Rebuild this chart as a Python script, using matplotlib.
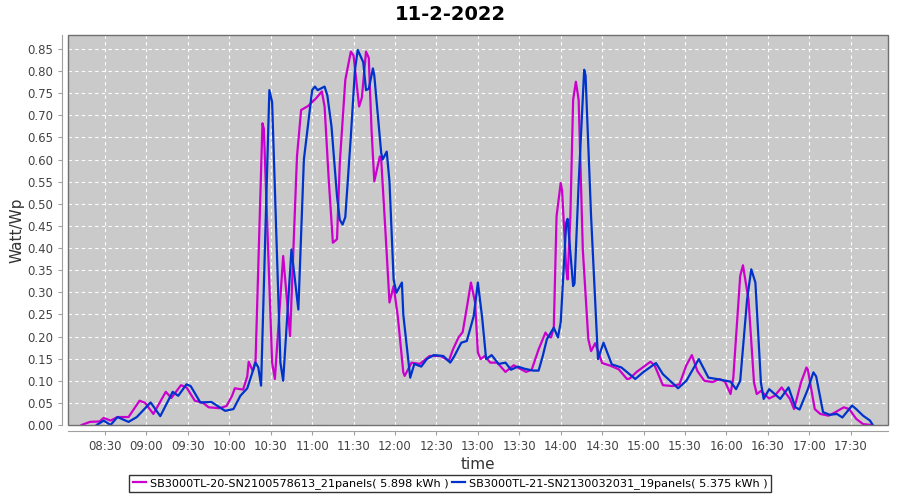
import matplotlib
matplotlib.use("Agg")
import matplotlib.pyplot as plt
from matplotlib.patches import Rectangle

# readings (time, Watt/Wp) for both inverters
times_a = ["08:13", "08:19", "08:26", "08:29", "08:34", "08:39", "08:47", "08:55", "08:59", "09:05",
           "09:14", "09:18", "09:25", "09:29", "09:35", "09:41", "09:45", "09:53", "09:58", "10:02",
           "10:04", "10:10", "10:13", "10:14", "10:17", "10:19", "10:24", "10:25", "10:31", "10:33",
           "10:39", "10:44", "10:49", "10:52", "10:57", "11:03", "11:07", "11:09", "11:12", "11:15",
           "11:18", "11:20", "11:24", "11:28", "11:30", "11:34", "11:36", "11:39", "11:41", "11:43",
           "11:45", "11:49", "11:50", "11:53", "11:56", "11:59", "12:02", "12:06", "12:07", "12:12",
           "12:18", "12:25", "12:33", "12:39", "12:42", "12:46", "12:49", "12:52", "12:55", "12:58",
           "13:00", "13:02", "13:05", "13:09", "13:14", "13:20", "13:26", "13:30", "13:35", "13:39",
           "13:44", "13:49", "13:51", "13:53", "13:55", "13:57", "14:00", "14:01", "14:04", "14:05",
           "14:07", "14:09", "14:11", "14:13", "14:16", "14:20", "14:22", "14:25", "14:30", "14:36",
           "14:42", "14:48", "14:50", "14:55", "15:05", "15:08", "15:14", "15:21", "15:26", "15:31",
           "15:35", "15:39", "15:44", "15:50", "15:55", "15:59", "16:03", "16:05", "16:10", "16:12",
           "16:16", "16:20", "16:22", "16:25", "16:31", "16:35", "16:40", "16:46", "16:49", "16:54",
           "16:58", "16:59", "17:04", "17:08", "17:14", "17:19", "17:25", "17:29", "17:34", "17:39",
           "17:45"]
watt_a = [0.0, 0.007, 0.008, 0.016, 0.01, 0.018, 0.018, 0.055, 0.05, 0.025,
          0.075, 0.061, 0.09, 0.085, 0.055, 0.05, 0.04, 0.038, 0.043, 0.066,
          0.083, 0.08, 0.11, 0.143, 0.122, 0.145, 0.682, 0.67, 0.141, 0.104,
          0.382, 0.201, 0.607, 0.712, 0.721, 0.739, 0.754, 0.72, 0.555, 0.412,
          0.42, 0.592, 0.78, 0.844, 0.835, 0.72, 0.74, 0.844, 0.83, 0.667,
          0.551, 0.607, 0.6, 0.442, 0.277, 0.314, 0.246, 0.119, 0.111, 0.141,
          0.138, 0.156, 0.156, 0.145, 0.171, 0.198, 0.21, 0.265, 0.322, 0.277,
          0.164, 0.149, 0.156, 0.141, 0.141, 0.12, 0.135, 0.128, 0.12, 0.125,
          0.171, 0.209, 0.2, 0.198, 0.22, 0.472, 0.547, 0.53, 0.352, 0.329,
          0.472, 0.735, 0.776, 0.735, 0.397, 0.194, 0.167, 0.185, 0.14, 0.134,
          0.126, 0.104, 0.105, 0.12, 0.143, 0.135, 0.09, 0.088, 0.092, 0.135,
          0.158, 0.122, 0.1, 0.097, 0.104, 0.098, 0.07, 0.107, 0.337, 0.361,
          0.284, 0.096, 0.07, 0.077, 0.06, 0.066, 0.085, 0.059, 0.036, 0.096,
          0.13, 0.125, 0.036, 0.025, 0.021, 0.029, 0.04, 0.036, 0.014, 0.002,
          0.0]

times_b = ["08:24", "08:29", "08:34", "08:39", "08:47", "08:53", "09:03", "09:10", "09:19", "09:23",
           "09:29", "09:32", "09:39", "09:47", "09:57", "10:03", "10:08", "10:13", "10:19", "10:21",
           "10:23", "10:29", "10:31", "10:37", "10:39", "10:45", "10:46", "10:50", "10:54", "11:00",
           "11:02", "11:04", "11:09", "11:11", "11:14", "11:18", "11:20", "11:22", "11:24", "11:28",
           "11:31", "11:33", "11:37", "11:39", "11:41", "11:44", "11:45", "11:50", "11:51", "11:54",
           "11:56", "11:59", "12:01", "12:05", "12:06", "12:11", "12:14", "12:19", "12:23", "12:28",
           "12:35", "12:40", "12:43", "12:48", "12:52", "12:57", "13:00", "13:03", "13:06", "13:10",
           "13:15", "13:20", "13:24", "13:29", "13:34", "13:40", "13:44", "13:47", "13:50", "13:55",
           "13:58", "14:00", "14:04", "14:05", "14:09", "14:10", "14:13", "14:17", "14:18", "14:22",
           "14:27", "14:31", "14:37", "14:44", "14:54", "15:00", "15:09", "15:14", "15:25", "15:31",
           "15:40", "15:47", "15:53", "16:03", "16:07", "16:10", "16:15", "16:18", "16:21", "16:25",
           "16:27", "16:31", "16:39", "16:45", "16:50", "16:53", "16:59", "17:03", "17:05", "17:10",
           "17:15", "17:20", "17:24", "17:31", "17:34", "17:39", "17:44", "17:46"]
watt_b = [0.0, 0.01, 0.0, 0.018, 0.007, 0.018, 0.051, 0.02, 0.075, 0.066,
          0.092, 0.088, 0.051, 0.052, 0.032, 0.036, 0.066, 0.083, 0.141, 0.13,
          0.089, 0.757, 0.73, 0.141, 0.1, 0.397, 0.37, 0.261, 0.6, 0.757,
          0.765, 0.757, 0.765, 0.745, 0.675, 0.517, 0.464, 0.453, 0.47, 0.652,
          0.803, 0.848, 0.82, 0.757, 0.76, 0.806, 0.79, 0.615, 0.6, 0.618,
          0.55, 0.329, 0.299, 0.322, 0.25, 0.107, 0.138, 0.132, 0.149, 0.158,
          0.156, 0.141, 0.156, 0.186, 0.19, 0.246, 0.322, 0.246, 0.149, 0.158,
          0.138, 0.141, 0.125, 0.132, 0.127, 0.123, 0.123, 0.156, 0.194, 0.22,
          0.198, 0.232, 0.457, 0.466, 0.314, 0.32, 0.547, 0.803, 0.79, 0.472,
          0.149, 0.186, 0.137, 0.13, 0.104, 0.12, 0.14, 0.115, 0.083, 0.1,
          0.149, 0.107, 0.104, 0.098, 0.081, 0.1, 0.284, 0.352, 0.322, 0.096,
          0.059, 0.081, 0.059, 0.085, 0.04, 0.035, 0.081, 0.119, 0.11, 0.029,
          0.023, 0.025, 0.017, 0.044, 0.036, 0.021, 0.01, 0.0]

label_a = "SB3000TL-20-SN2100578613_21panels( 5.898 kWh )"
label_b = "SB3000TL-21-SN2130032031_19panels( 5.375 kWh )"
tick_labels = ["08:30", "09:00", "09:30", "10:00", "10:30", "11:00", "11:30", "12:00", "12:30",
               "13:00", "13:30", "14:00", "14:30", "15:00", "15:30", "16:00", "16:30", "17:00", "17:30"]


def to_min(s):
    h, m = s.split(":")
    return int(h) * 60 + int(m)


fig = plt.figure(figsize=(9, 5), dpi=100)
ax = fig.add_axes([0.0756, 0.15, 0.911, 0.78])
ax.set_facecolor("#cacaca")

ax.plot([to_min(t) for t in times_a], watt_a, color="#cc00cc", lw=1.6, label=label_a)
ax.plot([to_min(t) for t in times_b], watt_b, color="#0033cc", lw=1.6, label=label_b)

ax.set_xlim(to_min("08:03") + 0.2, to_min("17:57"))
ax.set_ylim(0, 0.8816)
ax.set_xticks([to_min(t) for t in tick_labels])
ax.set_xticklabels(tick_labels)
ax.set_yticks([i * 0.05 for i in range(18)])
ax.set_yticklabels(["%.2f" % (i * 0.05) for i in range(18)])
ax.tick_params(labelsize=8.5, colors="#a0a0a0", length=3, labelcolor="#444444")
ax.grid(True, color="white", linestyle=(0, (3, 3)), linewidth=0.8)

# axis lines sit a little outside the plot border (JFreeChart style)
ax.spines["top"].set_visible(False)
ax.spines["right"].set_visible(False)
ax.spines["left"].set_position(("outward", 4))
ax.spines["bottom"].set_position(("outward", 4))
ax.spines["left"].set_color("#a0a0a0")
ax.spines["bottom"].set_color("#a0a0a0")
ax.add_patch(Rectangle((0, 0), 1, 1, transform=ax.transAxes, fill=False,
                       edgecolor="#707070", lw=1.0, clip_on=False, zorder=5))

fig.suptitle("11-2-2022", x=0.5, y=0.99, fontsize=14, fontweight="bold")
ax.set_xlabel("time", fontsize=11, color="#333333", labelpad=3)
ax.set_ylabel("Watt/Wp", fontsize=11, color="#333333", labelpad=2)

fig.legend(loc="lower center", bbox_to_anchor=(0.5, 0.004), ncol=2, fontsize=8.1,
           frameon=True, fancybox=False, edgecolor="black", handlelength=1.2,
           handletextpad=0.3, columnspacing=0.3, borderpad=0.3)

fig.savefig("out.png", dpi=100)
